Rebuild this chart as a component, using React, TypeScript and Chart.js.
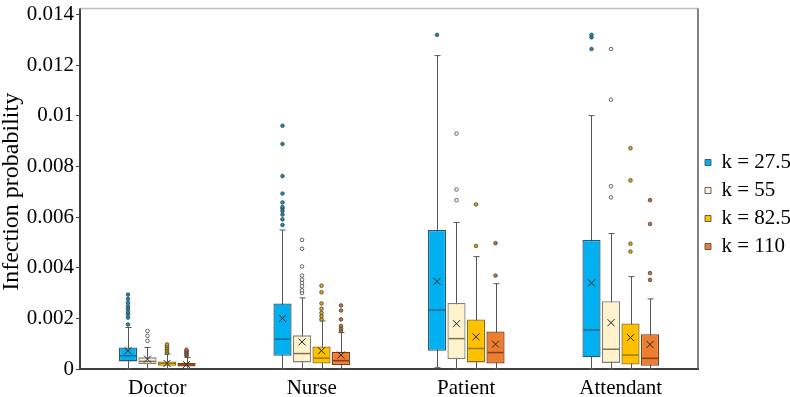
import React, { useEffect, useRef } from 'react';
import { Chart, registerables } from 'chart.js';

Chart.register(...registerables);

// ---------- data ----------
const categories = ['Doctor', 'Nurse', 'Patient', 'Attendant'];
const seriesLabels = ['k = 27.5', 'k = 55', 'k = 82.5', 'k = 110'];
const yTicks = [0, 0.002, 0.004, 0.006, 0.008, 0.01, 0.012, 0.014];

const k275Min = [0, 0, 0.00005, 0];
const k275Q1 = [0.0003, 0.00052, 0.00072, 0.00046];
const k275Median = [0.00052, 0.00118, 0.00233, 0.00154];
const k275Q3 = [0.00085, 0.00259, 0.00549, 0.0051];
const k275Max = [0.00164, 0.00549, 0.01238, 0.01001];
const k275Mean = [0.00072, 0.002, 0.00346, 0.0034];
const k275Outliers = [
  [0.00176, 0.00203, 0.00216, 0.00226, 0.00238, 0.00248, 0.00262, 0.00277, 0.00294],
  [0.00569, 0.00591, 0.0061, 0.00624, 0.00634, 0.0064, 0.00658, 0.00693, 0.00762, 0.00889, 0.00961],
  [0.0132],
  [0.01264, 0.0131, 0.0132],
];

const k55Min = [0, 0, 0, 0];
const k55Q1 = [0.0002, 0.00026, 0.00039, 0.00024];
const k55Median = [0.0003, 0.00061, 0.0012, 0.00078];
const k55Q3 = [0.00046, 0.00133, 0.00261, 0.00268];
const k55Max = [0.00085, 0.00281, 0.00579, 0.00535];
const k55Mean = [0.00039, 0.00107, 0.00179, 0.00183];
const k55Outliers = [
  [0.00111, 0.00131, 0.0015],
  [0.003, 0.00311, 0.00327, 0.0034, 0.00353, 0.00369, 0.00405, 0.00475, 0.0051],
  [0.00667, 0.00709, 0.0093],
  [0.00678, 0.00722, 0.01064, 0.01264],
];

const k825Min = [0, 0, 0, 0];
const k825Q1 = [0.00013, 0.00022, 0.00026, 0.00018];
const k825Median = [0.00022, 0.00043, 0.00081, 0.00055];
const k825Q3 = [0.0003, 0.00089, 0.00196, 0.0018];
const k825Max = [0.00059, 0.0019, 0.00444, 0.00365];
const k825Mean = [0.00022, 0.00072, 0.00127, 0.00124];
const k825Outliers = [
  [0.00063, 0.0007, 0.00077, 0.00083, 0.0009, 0.00097],
  [0.00196, 0.00209, 0.00222, 0.00238, 0.00259, 0.00303, 0.00329],
  [0.00486, 0.0065],
  [0.00464, 0.00495, 0.00745, 0.00872],
];

const k110Min = [0, 0, 0, 0];
const k110Q1 = [0.0001, 0.00016, 0.00022, 0.00013];
const k110Median = [0.00016, 0.00033, 0.00065, 0.00042];
const k110Q3 = [0.00024, 0.00068, 0.00148, 0.00137];
const k110Max = [0.00046, 0.00144, 0.00337, 0.00277];
const k110Mean = [0.00018, 0.00055, 0.00098, 0.00097];
const k110Outliers = [
  [0.00052, 0.00057, 0.00062, 0.00067, 0.00072, 0.00076],
  [0.0015, 0.0016, 0.0017, 0.00196, 0.00231, 0.00251],
  [0.00369, 0.00497],
  [0.00352, 0.00379, 0.00573, 0.00667],
];

// ---------- styles ----------
const fillColors = ['#00B0F0', '#FFF2CC', '#FFC000', '#ED7D31'];
const borderColors = ['#2F5670', '#7F7F7F', '#8C6D00', '#7A3A10'];
const medianColors = ['#17698A', '#7F7356', '#A07A00', '#8A3E10'];
const outlierFill = ['#0E8FC4', '#FFFFFF', '#E0A800', '#D8692A'];
const FONT = "'Liberation Serif', 'Times New Roman', serif";

const series = [
  { min: k275Min, q1: k275Q1, med: k275Median, q3: k275Q3, max: k275Max, mean: k275Mean, out: k275Outliers },
  { min: k55Min, q1: k55Q1, med: k55Median, q3: k55Q3, max: k55Max, mean: k55Mean, out: k55Outliers },
  { min: k825Min, q1: k825Q1, med: k825Median, q3: k825Q3, max: k825Max, mean: k825Mean, out: k825Outliers },
  { min: k110Min, q1: k110Q1, med: k110Median, q3: k110Q3, max: k110Max, mean: k110Mean, out: k110Outliers },
];

const boxPlugin = {
  id: 'boxDecor',
  beforeDatasetsDraw(chart: any) {
    const ctx = chart.ctx;
    const ys = chart.scales.y;
    series.forEach((s, di) => {
      const meta = chart.getDatasetMeta(di);
      meta.data.forEach((el: any, i: number) => {
        const x = Math.round(el.x) + 0.5;
        const yMin = ys.getPixelForValue(s.min[i]);
        const yMax = ys.getPixelForValue(s.max[i]);
        ctx.save();
        ctx.strokeStyle = '#555555';
        ctx.lineWidth = 1;
        ctx.beginPath();
        ctx.moveTo(x, yMin);
        ctx.lineTo(x, yMax);
        ctx.moveTo(x - 3, yMax);
        ctx.lineTo(x + 3, yMax);
        ctx.moveTo(x - 3, yMin);
        ctx.lineTo(x + 3, yMin);
        ctx.stroke();
        ctx.restore();
      });
    });
  },
  afterDatasetsDraw(chart: any) {
    const ctx = chart.ctx;
    const ys = chart.scales.y;
    series.forEach((s, di) => {
      const meta = chart.getDatasetMeta(di);
      meta.data.forEach((el: any, i: number) => {
        const x = el.x;
        const hw = el.width / 2;
        ctx.save();
        // median
        const ym = ys.getPixelForValue(s.med[i]);
        ctx.strokeStyle = medianColors[di];
        ctx.lineWidth = 1.5;
        ctx.beginPath();
        ctx.moveTo(x - hw + 1, ym);
        ctx.lineTo(x + hw - 1, ym);
        ctx.stroke();
        // mean x
        const ya = ys.getPixelForValue(s.mean[i]);
        ctx.strokeStyle = '#262626';
        ctx.lineWidth = 1;
        ctx.beginPath();
        ctx.moveTo(x - 3.5, ya - 3.5);
        ctx.lineTo(x + 3.5, ya + 3.5);
        ctx.moveTo(x - 3.5, ya + 3.5);
        ctx.lineTo(x + 3.5, ya - 3.5);
        ctx.stroke();
        // outliers
        s.out[i].forEach((v: number) => {
          const yo = ys.getPixelForValue(v);
          ctx.beginPath();
          ctx.arc(x, yo, 1.8, 0, Math.PI * 2);
          ctx.fillStyle = outlierFill[di];
          ctx.fill();
          ctx.strokeStyle = '#404040';
          ctx.lineWidth = 0.8;
          ctx.stroke();
        });
        ctx.restore();
      });
    });
  },
  afterDraw(chart: any) {
    const ctx = chart.ctx;
    const a = chart.chartArea;
    ctx.save();
    // top frame line
    ctx.strokeStyle = '#BFBFBF';
    ctx.lineWidth = 1.5;
    ctx.beginPath();
    ctx.moveTo(a.left, a.top - 6);
    ctx.lineTo(a.right, a.top - 6);
    ctx.stroke();
    // right frame line
    ctx.strokeStyle = '#595959';
    ctx.lineWidth = 1.5;
    ctx.beginPath();
    ctx.moveTo(a.right, a.top - 6);
    ctx.lineTo(a.right, a.bottom);
    ctx.stroke();
    // left axis extension
    ctx.strokeStyle = '#404040';
    ctx.lineWidth = 2;
    ctx.beginPath();
    ctx.moveTo(a.left, a.top - 6);
    ctx.lineTo(a.left, a.top);
    ctx.stroke();
    ctx.restore();
  },
};

export default function App() {
  const ref = useRef<HTMLCanvasElement>(null);
  useEffect(() => {
    if (!ref.current) return;
    const chart = new Chart(ref.current, {
      type: 'bar',
      data: {
        labels: categories,
        datasets: series.map((s, di) => ({
          label: seriesLabels[di],
          data: s.q1.map((q, i) => [q, s.q3[i]]),
          backgroundColor: fillColors[di],
          borderColor: borderColors[di],
          borderWidth: 1.3,
          borderSkipped: false,
          categoryPercentage: 0.505,
          barPercentage: 0.93,
        })),
      },
      options: {
        responsive: false,
        animation: false,
        layout: { padding: { top: 12, left: 0, right: 0, bottom: 0 } },
        plugins: {
          tooltip: { enabled: false },
          legend: {
            position: 'right',
            maxWidth: 92,
            labels: {
              boxWidth: 6,
              boxHeight: 6,
              padding: 7,
              color: '#595959',
              font: { family: FONT, size: 21 },
              generateLabels: () =>
                seriesLabels.map((t, di) => ({
                  text: t,
                  fillStyle: fillColors[di],
                  strokeStyle: '#404040',
                  lineWidth: 0.8,
                  datasetIndex: di,
                  hidden: false,
                })),
            },
          },
        },
        scales: {
          x: {
            grid: { display: false, drawTicks: false },
            border: { display: true, color: '#404040', width: 2 },
            ticks: { color: '#000', padding: 7, font: { family: FONT, size: 21 } },
            afterFit: (axis: any) => {
              axis.height = 28;
            },
          },
          y: {
            min: 0,
            max: 0.014,
            afterBuildTicks: (axis: any) => {
              axis.ticks = yTicks.map((v) => ({ value: v }));
            },
            grid: { drawOnChartArea: false, drawTicks: true, tickLength: 4, color: '#404040' },
            border: { display: true, color: '#404040', width: 2 },
            ticks: {
              color: '#000',
              padding: 2,
              font: { family: FONT, size: 21 },
              callback: (v: any) => String(Number(Number(v).toFixed(3))),
            },
            title: {
              display: true,
              text: 'Infection probability',
              color: '#000',
              font: { family: FONT, size: 24, lineHeight: 1.0 },
              padding: { top: 0, bottom: 0 },
            },
            afterFit: (axis: any) => {
              axis.width = 80;
            },
          },
        },
      },
      plugins: [boxPlugin],
    } as any);
    return () => chart.destroy();
  }, []);
  return (
    <div style={{ position: 'absolute', left: 0, top: 0, width: 790, height: 397, overflow: 'hidden', background: '#fff' }}>
      <canvas ref={ref} width={790} height={397} style={{ display: 'block' }} />
    </div>
  );
}
